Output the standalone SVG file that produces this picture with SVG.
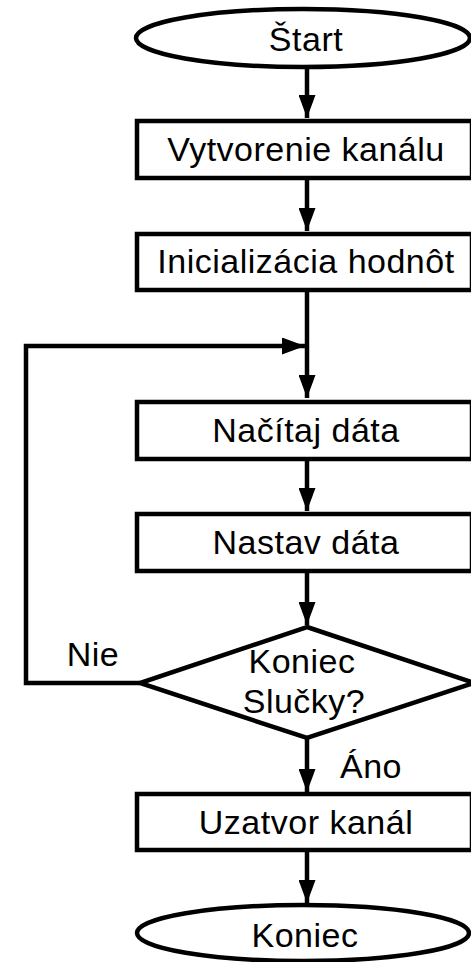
<svg xmlns="http://www.w3.org/2000/svg" width="471" height="962" viewBox="0 0 471 962">
<style>
.n{fill:#fff;stroke:#000;stroke-width:4.5}
.t{font-family:"Liberation Sans",Arial,sans-serif;font-size:34px;letter-spacing:0.5px;fill:#000;text-anchor:middle}
.c{fill:none;stroke:#000;stroke-width:4.5}
</style>
<defs>
<marker id="a" viewBox="0 0 23 17" refX="23" refY="8.5" markerWidth="23" markerHeight="17" markerUnits="userSpaceOnUse" orient="auto">
<path d="M0,0 L23,8.5 L0,17 z" fill="#000"/>
</marker>
</defs>
<rect width="471" height="962" fill="#fff"/>
<g id="connectors">
<line class="c" x1="307" y1="67" x2="307" y2="118" marker-end="url(#a)"/>
<line class="c" x1="307" y1="178" x2="307" y2="231" marker-end="url(#a)"/>
<line class="c" x1="307" y1="290" x2="307" y2="398" marker-end="url(#a)"/>
<polyline class="c" points="140,683 26,683 26,346 305,346" marker-end="url(#a)"/>
<line class="c" x1="307" y1="458" x2="307" y2="511" marker-end="url(#a)"/>
<line class="c" x1="307" y1="571" x2="307" y2="625" marker-end="url(#a)"/>
<line class="c" x1="307" y1="738" x2="307" y2="792" marker-end="url(#a)"/>
<line class="c" x1="307" y1="850" x2="307" y2="903" marker-end="url(#a)"/>
</g>
<g id="start">
<ellipse class="n" cx="303" cy="38" rx="167" ry="29"/>
<text class="t" x="306" y="51">Štart</text>
</g>
<g id="vytvorenie">
<rect class="n" x="137" y="121" width="335" height="57"/>
<text class="t" x="306" y="161">Vytvorenie kanálu</text>
</g>
<g id="inicializacia">
<rect class="n" x="137" y="234" width="335" height="56"/>
<text class="t" x="306" y="273">Inicializácia hodnôt</text>
</g>
<g id="nacitaj">
<rect class="n" x="137" y="402" width="335" height="57"/>
<text class="t" x="306" y="442">Načítaj dáta</text>
</g>
<g id="nastav">
<rect class="n" x="137" y="514" width="335" height="57"/>
<text class="t" x="306" y="554">Nastav dáta</text>
</g>
<g id="koniec-slucky">
<polygon class="n" points="307,627 474,683 307,738 140,683"/>
<text class="t" x="302" y="673">Koniec</text>
<text class="t" x="304" y="713">Slučky?</text>
</g>
<g id="labels">
<text class="t" x="93" y="666">Nie</text>
<text class="t" x="371" y="778">Áno</text>
</g>
<g id="uzatvor">
<rect class="n" x="137" y="794" width="335" height="56"/>
<text class="t" x="306" y="834">Uzatvor kanál</text>
</g>
<g id="koniec">
<ellipse class="n" cx="303" cy="933" rx="166" ry="28"/>
<text class="t" x="305" y="947">Koniec</text>
</g>
</svg>
